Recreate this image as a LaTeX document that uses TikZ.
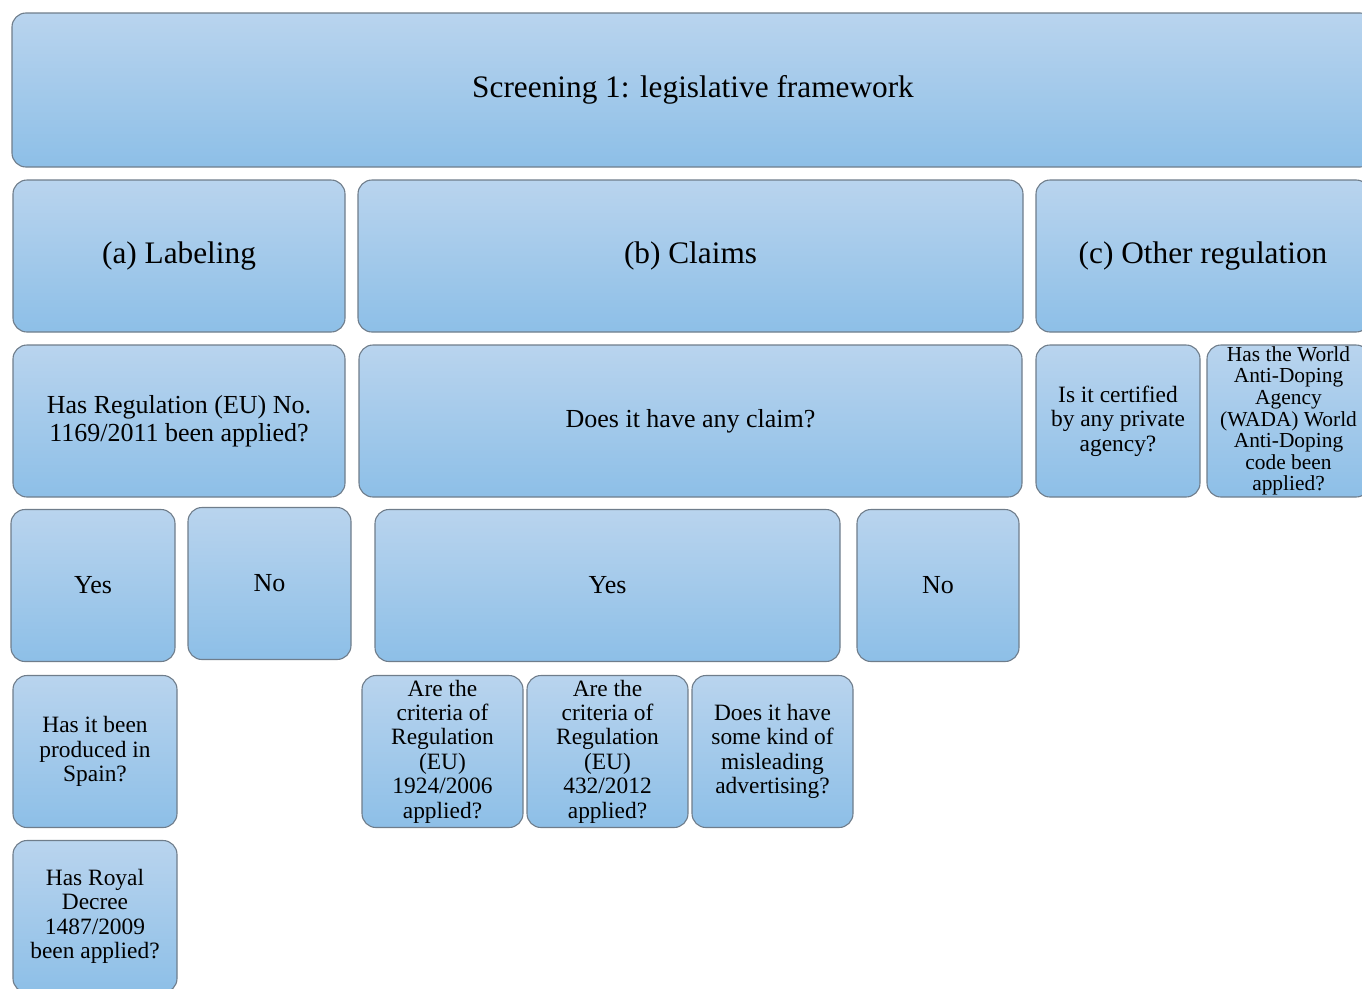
\documentclass[tikz,border=0pt]{standalone}
\usepackage{fontspec}
\setmainfont{Liberation Serif}
\usetikzlibrary{positioning}
\tikzset{x = 1pt, y = -1pt,
         box/.style = {rectangle, rounded corners = 14pt, draw = edgegray,
                       line width = 1.1pt, top color = topblue, bottom color = botblue,
                       inner sep = 0pt, outer sep = 0pt, align = center,
                       minimum height = 152pt},
         big/.style = {font = \fontsize{31.3}{35}\selectfont},
         mid/.style = {font = \fontsize{26}{28}\selectfont},
         small/.style = {font = \fontsize{23.4}{24.4}\selectfont},
         tiny/.style = {font = \fontsize{21.4}{21.6}\selectfont}}
\definecolor{topblue}{HTML}{B9D4EE}
\definecolor{botblue}{HTML}{8DBFE7}
\definecolor{edgegray}{HTML}{6F7D8B}

\begin{document}
\begin{tikzpicture}
        \useasboundingbox (0,0) rectangle (1362,988);

        \node[box, big, minimum width = 1362pt, minimum height = 154pt] (scr)    at (693,90)      {Screening 1: legislative framework};

        \node[box, big, minimum width = 332pt]  (lab)    at (179,256)     {(a) Labeling};
        \node[box, big, minimum width = 665pt]  (clm)    at (690.5,256)   {(b) Claims};
        \node[box, big, minimum width = 334pt]  (oth)    at (1203,256)    {(c) Other regulation};

        \node[box, mid, minimum width = 332pt]  (reg)    at (179,421)     {Has Regulation (EU) No.\\1169/2011 been applied?};
        \node[box, mid, minimum width = 663pt]  (any)    at (690.5,421)   {Does it have any claim?};
        \node[box, small, minimum width = 164pt] (cert)  at (1118,421)    {Is it certified\\by any private\\agency?};
        \node[box, tiny, minimum width = 163pt] (wada)   at (1288.5,421)  {Has the World\\Anti-Doping\\Agency\\(WADA) World\\Anti-Doping\\code been\\applied?};

        \node[box, mid, minimum width = 164pt]  (yesa)   at (93,585.5)    {Yes};
        \node[box, mid, minimum width = 163pt]  (noa)    at (269.5,583.5) {No};
        \node[box, mid, minimum width = 465pt]  (yesb)   at (607.5,585.5) {Yes};
        \node[box, mid, minimum width = 162pt]  (nob)    at (938,585.5)   {No};

        \node[box, small, minimum width = 164pt] (spain) at (95,751.5)    {Has it been\\produced in\\Spain?};
        \node[box, small, minimum width = 161pt] (crita) at (442.5,751.5) {Are the\\criteria of\\Regulation\\(EU)\\1924/2006\\applied?};
        \node[box, small, minimum width = 161pt] (critb) at (607.5,751.5) {Are the\\criteria of\\Regulation\\(EU)\\432/2012\\applied?};
        \node[box, small, minimum width = 161pt] (mis)   at (772.5,751.5) {Does it have\\some kind of\\misleading\\advertising?};

        \node[box, small, minimum width = 164pt] (royal) at (95,916.5)    {Has Royal\\Decree\\1487/2009\\been applied?};
\end{tikzpicture}
\end{document}
